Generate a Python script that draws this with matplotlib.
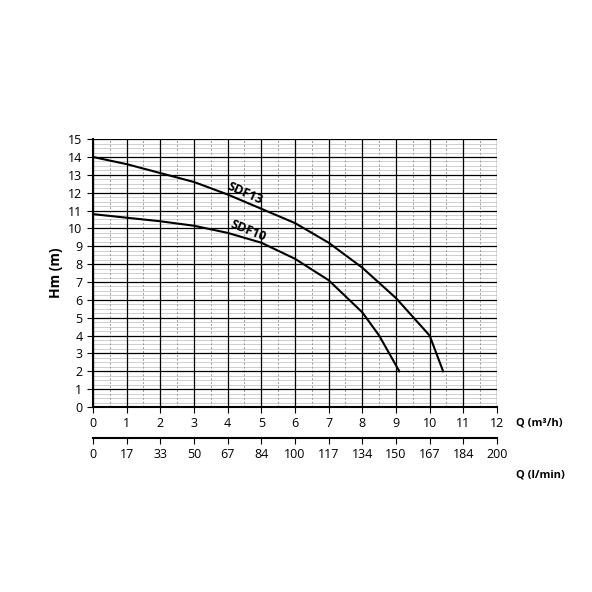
import matplotlib
matplotlib.use("Agg")
import matplotlib.pyplot as plt
import numpy as np

plt.rcParams['font.family'] = ['Open Sans', 'DejaVu Sans']

q13 = [0, 1, 2, 3, 4, 5, 6, 7, 8, 9, 10, 10.4]
h13 = [14, 13.6, 13.1, 12.6, 11.9, 11.1, 10.3, 9.2, 7.8, 6.1, 4.0, 2]
q10 = [0, 1, 2, 3, 4, 5, 6, 7, 8, 8.5, 9.1]
h10 = [10.8, 10.6, 10.4, 10.15, 9.75, 9.2, 8.3, 7.1, 5.3, 4.0, 2]
lmin_labels = ['0', '17', '33', '50', '67', '84', '100', '117', '134', '150', '167', '184', '200']

fig = plt.figure(figsize=(5.92, 5.92), dpi=100)
ax = fig.add_axes([0.157, 0.3125, 0.6825, 0.4525])
ax.set_xlim(0, 12)
ax.set_ylim(0, 15)
for y in np.arange(0, 15, 0.25):
    if y % 1:
        ax.axhline(y, color='#c8c8c8', lw=0.6, zorder=0)
for x in np.arange(0.5, 12, 1):
    ax.axvline(x, color='#999999', lw=0.7, ls=(0, (2, 2)), zorder=0)
ax.set_xticks(range(13))
ax.set_yticks(range(16))
ax.grid(True, color='black', lw=0.9, zorder=1)
ax.tick_params(labelsize=9, length=4, direction='out')
for s in ['top', 'right']:
    ax.spines[s].set_visible(False)
ax.spines['left'].set_linewidth(1.5)
ax.spines['bottom'].set_linewidth(1.5)

ax.plot(q13, h13, color='black', lw=1.5, zorder=3)
ax.plot(q10, h10, color='black', lw=1.5, zorder=3)
ax.text(4.5, 11.95, 'SDF13', rotation=-24, fontsize=9, fontweight='bold', ha='center', va='center')
ax.text(4.6, 9.85, 'SDF10', rotation=-22, fontsize=9, fontweight='bold', ha='center', va='center')
ax.set_ylabel('Hm (m)', fontsize=10, fontweight='bold')
ax.text(12.55, -0.9, 'Q (m³/h)', fontsize=8, fontweight='bold', va='center')

sec = ax.secondary_xaxis(-0.115)
sec.set_xticks(range(13))
sec.set_xticklabels(lmin_labels)
sec.tick_params(labelsize=9, length=4)
sec.spines['bottom'].set_linewidth(1.5)
ax.text(12.55, -3.8, 'Q (l/min)', fontsize=8, fontweight='bold', va='center')

fig.savefig('out.png', dpi=100)
